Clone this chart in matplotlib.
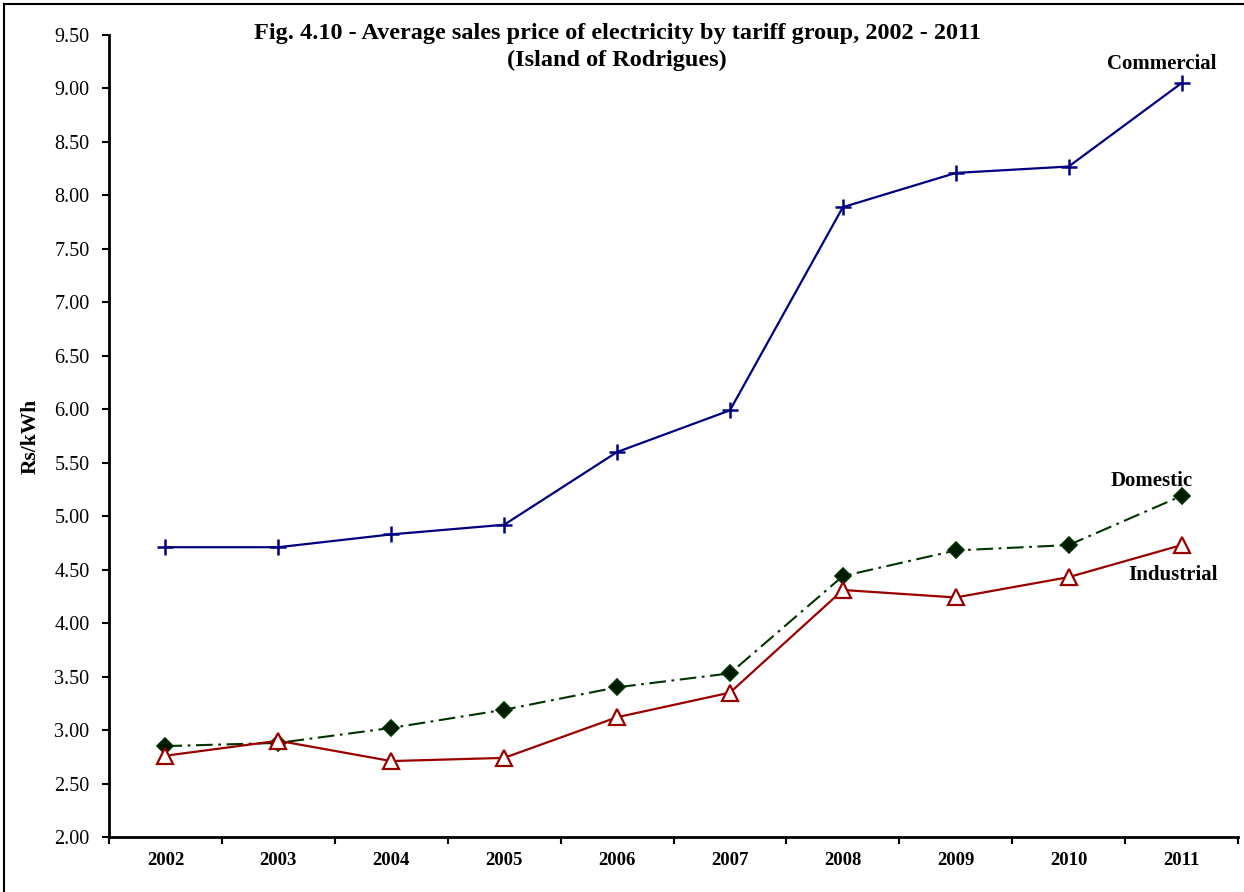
import matplotlib
matplotlib.use("Agg")
import matplotlib.pyplot as plt
from matplotlib.lines import Line2D

years = ["2002", "2003", "2004", "2005", "2006", "2007", "2008", "2009", "2010", "2011"]
commercial = [4.71, 4.71, 4.83, 4.92, 5.60, 5.99, 7.89, 8.21, 8.27, 9.05]
domestic = [2.85, 2.88, 3.02, 3.19, 3.40, 3.53, 4.44, 4.68, 4.73, 5.19]
industrial = [2.76, 2.90, 2.71, 2.74, 3.12, 3.35, 4.31, 4.24, 4.43, 4.73]
yticks = [2.0, 2.5, 3.0, 3.5, 4.0, 4.5, 5.0, 5.5, 6.0, 6.5, 7.0, 7.5, 8.0, 8.5, 9.0, 9.5]

plt.rcParams['font.family'] = ['Liberation Serif', 'DejaVu Serif']
plt.rcParams['lines.scale_dashes'] = False

W, H = 1244, 892
fig = plt.figure(figsize=(W / 100, H / 100), dpi=100)
ax = fig.add_axes([109 / W, 1 - 837 / H, (1238 - 109) / W, (837 - 35) / H])

x = list(range(len(years)))
ax.plot(x, commercial, color='#000080', lw=1.6, marker='+', ms=12, mew=1.8, zorder=3)
ax.plot(x, domestic, color='#003300', lw=1.5, dashes=(12, 4, 2, 4),
        marker='D', ms=8.5, mfc='#001a00', mec='#003300', mew=1.2, zorder=3)
ax.plot(x, industrial, color='#990000', lw=1.6, marker='^', ms=11.5,
        mfc='white', mec='#990000', mew=1.6, zorder=4)

ax.set_xlim(-0.5, len(years) - 0.5)
ax.set_ylim(2.0, 9.5)
ax.set_yticks(yticks)
ax.set_yticklabels([f"{v:.2f}" for v in yticks], fontsize=14.5)
ax.set_xticks(x)
ax.set_xticklabels(years, fontsize=13.5, fontweight='bold')
ax.set_xticks([i - 0.5 for i in range(len(years) + 1)], minor=True)
ax.tick_params(axis='x', which='major', length=0, pad=11)
ax.tick_params(axis='x', which='minor', length=5, width=1.5, direction='out')
ax.tick_params(axis='y', length=5, width=1.5, direction='out', pad=9)
for s in ['top', 'right']:
    ax.spines[s].set_visible(False)
for s in ['left', 'bottom']:
    ax.spines[s].set_linewidth(2)

ax.set_ylabel("Rs/kWh", fontsize=15.5, fontweight='bold', va='center')
ax.yaxis.set_label_coords((31 - 109) / (1238 - 109), 0.5)

fig.text(617 / W, 1 - 33 / H,
         "Fig. 4.10 - Average sales price of electricity by tariff group, 2002 - 2011",
         ha='center', va='center', fontsize=17.5, fontweight='bold')
fig.text(617 / W, 1 - 60 / H, "(Island of Rodrigues)",
         ha='center', va='center', fontsize=17.5, fontweight='bold')

fig.text(1162 / W, 1 - 64 / H, "Commercial", ha='center', va='center', fontsize=15, fontweight='bold')
fig.text(1152 / W, 1 - 481 / H, "Domestic", ha='center', va='center', fontsize=15, fontweight='bold')
fig.text(1173 / W, 1 - 575 / H, "Industrial", ha='center', va='center', fontsize=15, fontweight='bold')

fig.add_artist(Line2D([3.5 / W, 3.5 / W], [0, 1 - 4 / H], color='black', lw=1.5, transform=fig.transFigure))
fig.add_artist(Line2D([3.5 / W, 1], [1 - 4 / H, 1 - 4 / H], color='black', lw=1.5, transform=fig.transFigure))

fig.savefig("out.png", dpi=100)
